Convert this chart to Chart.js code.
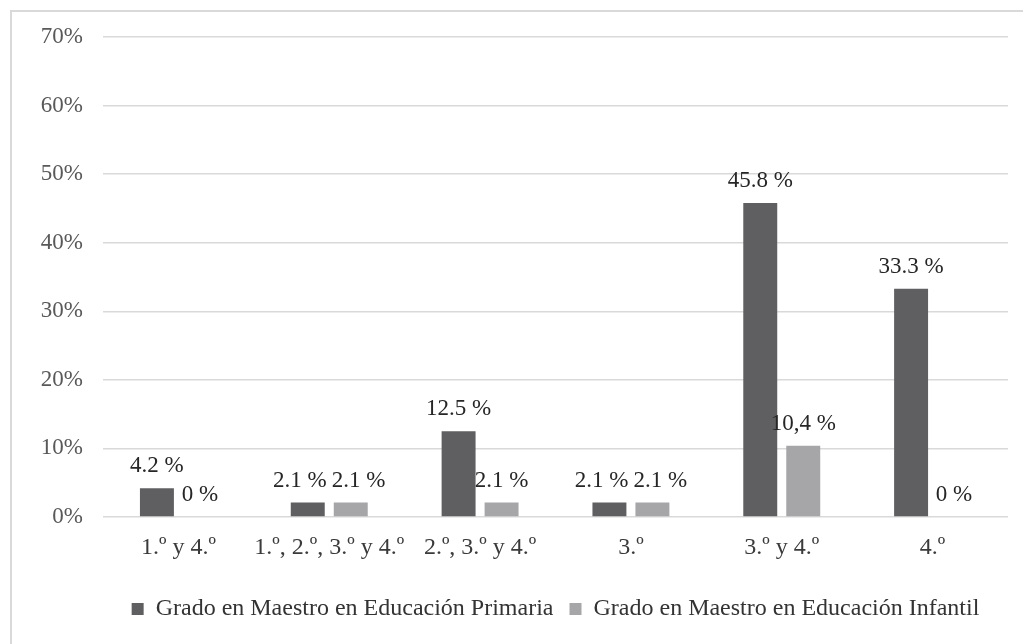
<!DOCTYPE html>
<html>
<head>
<meta charset="utf-8">
<script src="https://cdn.jsdelivr.net/npm/chart.js@4/dist/chart.umd.min.js"></script>
<style>
  html, body { margin: 0; padding: 0; background: #fff; overflow: hidden; }
  #wrap { width: 1023px; height: 644px; position: relative; }
</style>
</head>
<body>
<div id="wrap"><canvas id="chart"></canvas></div>
<script>
// Data
const categories = ['1.º y 4.º', '1.º, 2.º, 3.º y 4.º', '2.º, 3.º y 4.º', '3.º', '3.º y 4.º', '4.º'];
const primaria = [4.2, 2.1, 12.5, 2.1, 45.8, 33.3];
const infantil = [0, 2.1, 2.1, 2.1, 10.4, 0];
const primariaLabels = ['4.2 %', '2.1 %', '12.5 %', '2.1 %', '45.8 %', '33.3 %'];
const infantilLabels = ['0 %', '2.1 %', '2.1 %', '2.1 %', '10,4 %', '0 %'];
const seriesNames = ['Grado en Maestro en Educación Primaria', 'Grado en Maestro en Educación Infantil'];

const FONT = '"Liberation Serif", "Times New Roman", serif';

// light gray frame around the chart (only top and left edges are visible)
const framePlugin = {
    id: 'frame',
    beforeDraw(chart) {
        const ctx = chart.ctx;
        ctx.save();
        ctx.fillStyle = '#fff';
        ctx.fillRect(0, 0, chart.width, chart.height);
        ctx.strokeStyle = '#d9d9d9';
        ctx.lineWidth = 2;
        ctx.strokeRect(11, 11, 1200, 800);
        ctx.restore();
    }
};

// value labels above each bar, nudged apart when two in one group would collide
const barLabelsPlugin = {
    id: 'barLabels',
    afterDatasetsDraw(chart) {
        const ctx = chart.ctx;
        const size = 23;
        ctx.save();
        ctx.font = size + 'px ' + FONT;
        ctx.fillStyle = '#262626';
        ctx.textAlign = 'center';
        ctx.textBaseline = 'alphabetic';
        const metas = chart.data.datasets.map((ds, i) => chart.getDatasetMeta(i));
        chart.data.labels.forEach((_, j) => {
            const items = chart.data.datasets.map((ds, i) => {
                const bar = metas[i].data[j];
                const text = ds.valueLabels[j];
                return { text, x: bar.x, y: bar.y - 16, w: ctx.measureText(text).width };
            });
            for (let k = 1; k < items.length; k++) {
                const a = items[k - 1], b = items[k];
                if (Math.abs(a.y - b.y) < size) {
                    const overlap = (a.x + a.w / 2) - (b.x - b.w / 2) + 5;
                    if (overlap > 0) {
                        a.x -= overlap / 2;
                        b.x += overlap / 2;
                    }
                }
            }
            items.forEach(it => ctx.fillText(it.text, it.x, it.y));
        });
        ctx.restore();
    }
};

const ctx = document.getElementById('chart').getContext('2d');
new Chart(ctx, {
    type: 'bar',
    data: {
        labels: categories,
        datasets: [
            {
                label: seriesNames[0],
                data: primaria,
                valueLabels: primariaLabels,
                backgroundColor: '#5f5f61',
                categoryPercentage: 0.57,
                barPercentage: 0.79
            },
            {
                label: seriesNames[1],
                data: infantil,
                valueLabels: infantilLabels,
                backgroundColor: '#a6a6a9',
                categoryPercentage: 0.57,
                barPercentage: 0.79
            }
        ]
    },
    options: {
        responsive: true,
        maintainAspectRatio: false,
        animation: false,
        layout: { padding: { top: 37, right: 15, bottom: 13, left: 0 } },
        scales: {
            x: {
                grid: { display: false },
                border: { display: false },
                ticks: {
                    color: '#3a3a3a',
                    font: { family: FONT, size: 24 },
                    padding: 8,
                    maxRotation: 0,
                    autoSkip: false
                },
                afterFit(scale) { scale.height = 64; }
            },
            y: {
                min: 0,
                max: 70,
                grid: { color: '#d9d9d9', lineWidth: 1.5, drawTicks: false },
                border: { display: false },
                ticks: {
                    stepSize: 10,
                    color: '#595959',
                    font: { family: FONT, size: 23 },
                    padding: 20,
                    callback: v => v + '%'
                },
                afterFit(scale) { scale.width = 103; }
            }
        },
        plugins: {
            legend: {
                position: 'bottom',
                fullSize: false,
                labels: {
                    color: '#333',
                    font: { family: FONT, size: 24 },
                    boxWidth: 12,
                    boxHeight: 12,
                    padding: 16
                }
            },
            tooltip: { enabled: false }
        }
    },
    plugins: [framePlugin, barLabelsPlugin]
});
</script>
</body>
</html>
